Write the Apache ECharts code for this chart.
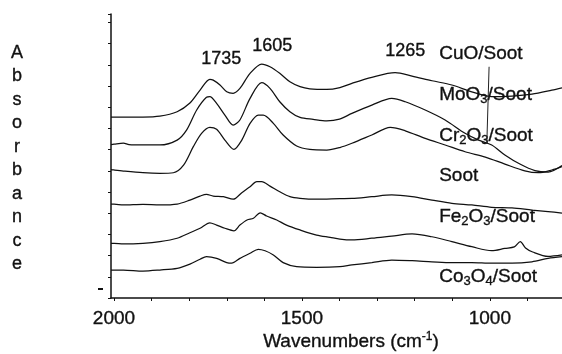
<!DOCTYPE html>
<html>
<head>
<meta charset="utf-8">
<script src="https://cdn.jsdelivr.net/npm/echarts@6/dist/echarts.min.js"></script>
<style>html,body{margin:0;padding:0;background:#fff}#c{width:562px;height:354px}</style>
</head>
<body>
<div id="c"></div>
<script>
// Wavenumber (cm-1) / relative absorbance (offset, arbitrary units)
var cuo = [[2008,8.54],[2000,8.54],[1923,8.54],[1878,8.58],[1832,8.79],[1798,9.20],[1771,9.81],[1745,10.32],[1736,10.28],[1718,10.05],[1700,9.73],[1683,9.66],[1665,9.89],[1638,10.60],[1607,11.04],[1585,10.91],[1559,10.60],[1532,10.20],[1505,9.97],[1479,9.87],[1434,9.84],[1399,9.93],[1367,10.13],[1314,10.41],[1252,10.63],[1207,10.47],[1154,10.25],[1101,10.05],[1048,9.73],[995,9.50],[941,9.53],[888,9.62],[835,9.81],[808,9.92]];
var moo3 = [[2008,7.24],[2000,7.26],[1975,7.31],[1960,7.24],[1923,7.22],[1878,7.22],[1832,7.45],[1807,7.92],[1780,8.87],[1754,9.47],[1745,9.50],[1727,9.18],[1705,8.63],[1683,8.16],[1665,8.40],[1638,9.42],[1607,10.16],[1585,9.89],[1559,9.26],[1532,8.79],[1505,8.52],[1470,8.43],[1434,8.36],[1400,8.44],[1367,8.71],[1314,9.10],[1261,9.42],[1225,9.26],[1172,8.87],[1119,8.40],[1066,7.77],[1030,7.45],[995,7.22],[960,6.75],[920,6.32],[880,6.01],[845,5.94],[808,6.25]];
var cr2o3 = [[2008,6.06],[2000,6.04],[1975,5.99],[1923,5.91],[1878,5.88],[1842,5.91],[1815,6.27],[1789,7.14],[1767,7.77],[1745,8.05],[1727,7.96],[1705,7.45],[1681,7.01],[1660,7.45],[1638,8.24],[1616,8.63],[1603,8.63],[1576,8.24],[1550,7.69],[1514,7.17],[1479,7.01],[1434,6.98],[1399,7.10],[1367,7.30],[1314,7.69],[1265,8.05],[1225,7.89],[1172,7.53],[1119,7.22],[1066,6.90],[1012,6.65],[960,6.32],[907,6.00],[871,5.91],[835,6.04],[808,6.20]];
var soot = [[2008,4.43],[2000,4.43],[1975,4.39],[1923,4.42],[1878,4.39],[1832,4.43],[1798,4.62],[1771,4.81],[1754,4.89],[1736,4.81],[1709,4.78],[1683,4.66],[1660,4.97],[1638,5.25],[1620,5.49],[1607,5.49],[1585,5.28],[1559,5.01],[1532,4.78],[1505,4.70],[1461,4.66],[1399,4.69],[1367,4.70],[1314,4.78],[1261,4.86],[1207,4.78],[1154,4.62],[1101,4.47],[1048,4.39],[995,4.28],[941,4.25],[888,4.15],[845,4.08],[808,4.01]];
var fe2o3 = [[2008,2.58],[2000,2.58],[1975,2.55],[1923,2.58],[1878,2.66],[1832,2.82],[1798,3.08],[1771,3.29],[1745,3.55],[1727,3.44],[1705,3.29],[1681,3.17],[1665,3.44],[1646,3.68],[1629,3.76],[1611,4.02],[1594,3.87],[1567,3.68],[1541,3.44],[1505,3.21],[1461,2.97],[1425,2.86],[1399,2.78],[1367,2.74],[1314,2.82],[1261,2.92],[1207,3.02],[1154,2.89],[1101,2.66],[1048,2.42],[995,2.23],[960,2.34],[935,2.41],[919,2.66],[905,2.36],[886,2.17],[845,1.96],[808,2.03]];
var co3o4 = [[2008,1.32],[2000,1.32],[1975,1.32],[1923,1.27],[1878,1.32],[1832,1.40],[1798,1.60],[1771,1.83],[1754,1.95],[1727,1.87],[1700,1.67],[1687,1.64],[1665,1.87],[1638,2.11],[1616,2.30],[1598,2.23],[1576,2.03],[1550,1.67],[1514,1.48],[1461,1.45],[1399,1.48],[1367,1.56],[1314,1.67],[1261,1.79],[1207,1.76],[1154,1.71],[1101,1.67],[1048,1.67],[995,1.64],[941,1.64],[888,1.71],[845,1.87],[808,1.95]];
var seriesNames = ['CuO/Soot','MoO3/Soot','Cr2O3/Soot','Soot','Fe2O3/Soot','Co3O4/Soot'];
var seriesData = [cuo, moo3, cr2o3, soot, fe2o3, co3o4];
var xTickValues = [900,1000,1100,1200,1300,1400,1500,1600,1700,1800,1900,2000];
var xLabelValues = [1000,1500,2000];
var peakLabels = ['1735','1605','1265'];
var leader = [[1002,10.91],[1008,7.31]];

var FONT = 'Liberation Sans, Arial, Helvetica, sans-serif';
var INK = '#111';
var BW = 0.35; // slight stroke to mimic the heavier printed type
var chart = echarts.init(document.getElementById('c'), null, {renderer:'canvas'});

var series = seriesData.map(function(d, i){
  var s = {
    name: seriesNames[i], type:'line', data:d, showSymbol:false, smooth:0.3,
    lineStyle:{color:'#111', width:1.25}, silent:true, animation:false
  };
  if (i === 0) {
    s.markLine = {
      symbol:['none','none'], silent:true, animation:false,
      lineStyle:{color:'#222', width:1, type:'solid'}, label:{show:false},
      data:[[{coord:leader[0]},{coord:leader[1]}]]
    };
  }
  return s;
});

var rich = {
  a:{fontSize:19, fontFamily:FONT, fill:INK, lineHeight:22, stroke:INK, lineWidth:BW},
  s:{fontSize:13, fontFamily:FONT, fill:INK, lineHeight:10, verticalAlign:'bottom', stroke:INK, lineWidth:BW}
};
function lab(x, y, txt){
  return {type:'text', left:x, top:y, silent:true,
    style:{text:txt, rich:rich, fill:INK}};
}
function plain(x, y, txt){
  return {type:'text', left:x, top:y, silent:true,
    style:{text:txt, fontSize:18, fontFamily:FONT, fill:INK, stroke:INK, lineWidth:BW}};
}

chart.setOption({
  animation:false,
  backgroundColor:'#fff',
  grid:{left:111, right:0, top:14, bottom:56, containLabel:false},
  xAxis:{
    type:'value', min:808, max:2008, inverse:true,
    axisLine:{show:true, onZero:false, lineStyle:{color:INK, width:1.5}},
    axisTick:{show:true, length:3, customValues:xTickValues, lineStyle:{color:INK, width:1}},
    axisLabel:{show:true, customValues:xLabelValues, margin:11, fontSize:19, fontFamily:FONT, color:INK,
      textBorderColor:INK, textBorderWidth:BW,
      formatter:function(v){ return String(v); }},
    splitLine:{show:false}
  },
  yAxis:{
    type:'value', min:0, max:13.4, interval:1,
    axisLine:{show:true, onZero:false, lineStyle:{color:INK, width:1.5}},
    axisTick:{show:true, length:3, lineStyle:{color:INK, width:1}},
    axisLabel:{show:false}, splitLine:{show:false}
  },
  graphic:[
    {type:'text', x:17, y:41, silent:true,
      style:{text:'A\nb\ns\no\nr\nb\na\nn\nc\ne', fontSize:18, lineHeight:23.5, fontFamily:FONT, fill:INK, stroke:INK, lineWidth:BW, align:'center'}},
    {type:'text', x:351, y:331, silent:true,
      style:{text:'{a|Wavenumbers (cm}{p|-1}{a|)}', align:'center', fill:INK, rich:{
        a:{fontSize:19, fontFamily:FONT, fill:INK, lineHeight:21, stroke:INK, lineWidth:BW},
        p:{fontSize:12, fontFamily:FONT, fill:INK, lineHeight:10, verticalAlign:'top', stroke:INK, lineWidth:BW}}}},
    plain(201, 50, peakLabels[0]),
    plain(252, 37, peakLabels[1]),
    plain(385, 42, peakLabels[2]),
    lab(439, 44, '{a|CuO/Soot}'),
    lab(439, 85, '{a|MoO}{s|3}{a|/Soot}'),
    lab(439, 126, '{a|Cr}{s|2}{a|O}{s|3}{a|/Soot}'),
    lab(439, 166, '{a|Soot}'),
    lab(439, 207, '{a|Fe}{s|2}{a|O}{s|3}{a|/Soot}'),
    lab(439, 267, '{a|Co}{s|3}{a|O}{s|4}{a|/Soot}'),
    {type:'rect', left:98, top:288, silent:true, shape:{width:5, height:2}, style:{fill:INK}}
  ],
  series: series
});
</script>
</body>
</html>
